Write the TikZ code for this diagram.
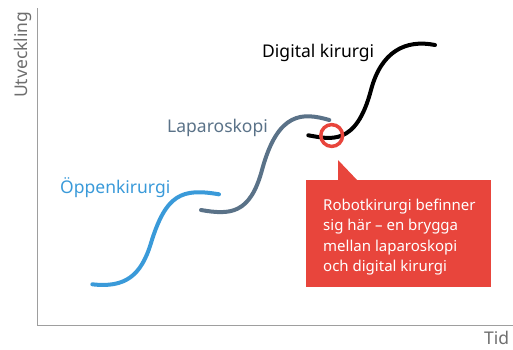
\documentclass[tikz,border=0pt]{standalone}
\usepackage{fontspec}
\setmainfont{Noto Sans}
\definecolor{cblue}{HTML}{3A9AD9}
\definecolor{cslate}{HTML}{5A7288}
\definecolor{cred}{HTML}{E8453C}
\definecolor{caxis}{HTML}{9E9E9E}
\definecolor{ctext}{HTML}{6E6E6E}
\begin{document}
\begin{tikzpicture}[x=1pt,y=-1pt,
  curve/.style={line width=4pt, line cap=round},
  lbl/.style={inner sep=0pt, anchor=base west, font=\fontsize{17.5}{21}\selectfont},
  axis/.style={draw=caxis, line width=1.3pt},
  callbox/.style={fill=cred, inner sep=0pt, minimum width=185pt, minimum height=107pt, anchor=north west},
  calltext/.style={inner sep=0pt, anchor=north west, align=left, text=white, font=\fontsize{15}{20.5}\selectfont},
  ring/.style={circle, draw=cred, line width=3.5pt, minimum size=21.8pt, inner sep=0pt},
]
\useasboundingbox (0,0) rectangle (513,349);
% axes
\coordinate (ytop) at (37.3,8);
\coordinate (orig) at (37.3,325.3);
\coordinate (xend) at (513,325.3);
\draw[axis] (ytop) -- (orig) -- (xend);
\node[lbl, text=ctext, rotate=90] (ylab) at (27,98) {Utveckling};
\node[lbl, text=ctext] (xlab) at (484,344) {Tid};
% curves
\draw[curve, cblue] (92.3,284.3) .. controls (125,288) and (141,276) .. (151,243)
  .. controls (166,194) and (182,188) .. (219,194.3);
\draw[curve, cslate] (201,210) .. controls (230,215) and (250,214.4) .. (262,170)
  .. controls (278,110.8) and (303,112.5) .. (329.3,120);
\draw[curve, black] (308.3,135.3) .. controls (330,139) and (356,147) .. (371,90)
  .. controls (381,52) and (405,39) .. (435,45);
% labels
\node[lbl, text=cblue] (lopen) at (60,193) {Öppenkirurgi};
\node[lbl, text=cslate] (llap) at (167,132) {Laparoskopi};
\node[lbl, text=black] (ldig) at (262,57.3) {Digital kirurgi};
% marker ring
\node[ring] (mark) at (331.7,135.5) {};
% callout
\node[callbox] (callout) at (306,180) {};
\fill[cred] ([xshift=32pt,yshift=-1pt]callout.north west) -- ([xshift=32pt,yshift=20pt]callout.north west) -- ([xshift=52pt,yshift=-1pt]callout.north west) -- cycle;
\node[calltext] (ctext) at (323,198.5) {Robotkirurgi befinner\\sig här – en brygga\\mellan laparoskopi\\och digital kirurgi};
\end{tikzpicture}
\end{document}
